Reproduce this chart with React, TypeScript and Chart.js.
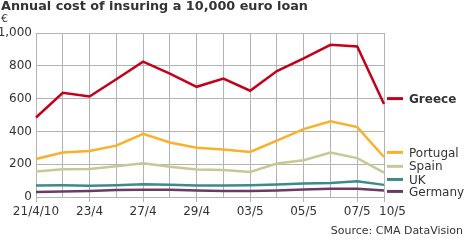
import React, { useEffect, useRef } from "react";
import { Chart, registerables } from "chart.js";

Chart.register(...registerables);

const dates = ["21/4/10", "22/4", "23/4", "26/4", "27/4", "28/4", "29/4", "30/4", "03/5", "04/5", "05/5", "06/5", "07/5", "10/5"];
const shownLabels = ["21/4/10", "23/4", "27/4", "29/4", "03/5", "05/5", "07/5", "10/5"];

const greece = [485, 635, 613, 718, 825, 752, 672, 722, 648, 768, 845, 928, 918, 567];
const portugal = [232, 271, 280, 313, 385, 332, 300, 290, 275, 344, 414, 462, 426, 244];
const spain = [155, 169, 171, 187, 206, 184, 168, 165, 153, 204, 224, 271, 237, 149];
const uk = [70, 71, 69, 72, 78, 74, 70, 70, 72, 76, 82, 86, 96, 74];
const germany = [31, 33, 37, 42, 44, 44, 40, 37, 37, 40, 46, 50, 50, 40];

const seriesNames = ["Greece", "Portugal", "Spain", "UK", "Germany"];
const seriesColors = ["#c4001a", "#f7b12a", "#c9c796", "#3d8a8c", "#6b3b67"];
const legendValues = [600, 272, 187, 107, 34];

const titleText = "Annual cost of insuring a 10,000 euro loan";
const unitText = "€";
const sourceText = "Source: CMA DataVision";

const FONT = "'DejaVu Sans', Verdana, sans-serif";

export default function App() {
  const ref = useRef<HTMLCanvasElement>(null);
  useEffect(() => {
    const canvas = ref.current!;
    const values = [greece, portugal, spain, uk, germany];
    const overlay = {
      id: "overlay",
      afterDraw(chart: any) {
        const ctx = chart.ctx as CanvasRenderingContext2D;
        const ys = chart.scales.y;
        const xs = chart.scales.x;
        ctx.save();
        ctx.fillStyle = "#333";
        ctx.textBaseline = "alphabetic";
        ctx.textAlign = "left";
        ctx.font = `bold 12.8px ${FONT}`;
        ctx.fillText(titleText, 1, 10);
        ctx.font = `11px ${FONT}`;
        ctx.fillText(unitText, 1, 22);
        ctx.textAlign = "right";
        ctx.fillText(sourceText, 463, 234);
        // x tick labels
        ctx.font = `12px ${FONT}`;
        ctx.textBaseline = "top";
        dates.forEach((d, i) => {
          if (!shownLabels.includes(d)) return;
          const x = xs.getPixelForValue(i);
          const last = i === dates.length - 1;
          ctx.textAlign = last ? "left" : "center";
          ctx.fillText(d, last ? x - 5 : x, 206);
        });
        // legend
        ctx.textAlign = "left";
        ctx.textBaseline = "middle";
        seriesNames.forEach((n, i) => {
          const y = ys.getPixelForValue(legendValues[i]);
          ctx.strokeStyle = seriesColors[i];
          ctx.lineWidth = 3;
          ctx.beginPath();
          ctx.moveTo(387, y);
          ctx.lineTo(403, y);
          ctx.stroke();
          ctx.fillStyle = "#333";
          ctx.font = i === 0 ? `bold 12px ${FONT}` : `12px ${FONT}`;
          ctx.fillText(n, 409, y + 1);
        });
        ctx.restore();
      },
    };
    const chart = new Chart(canvas, {
      type: "line",
      data: {
        labels: dates,
        datasets: seriesNames.map((n, i) => ({
          label: n,
          data: values[i],
          borderColor: seriesColors[i],
          backgroundColor: seriesColors[i],
          borderWidth: 2.5,
          pointRadius: 0,
          tension: 0,
          order: i === 0 ? -1 : i,
        })),
      },
      options: {
        responsive: false,
        animation: false,
        layout: { padding: { left: 0, right: 82, top: 33, bottom: 0 } },
        plugins: { legend: { display: false }, tooltip: { enabled: false }, title: { display: false } },
        scales: {
          x: {
            offset: false,
            grid: {
              color: "#b3b3b3",
              lineWidth: 1,
              drawTicks: true,
              tickLength: 5,
              tickColor: (c: any) => (shownLabels.includes(dates[c.index]) ? "#b3b3b3" : "rgba(0,0,0,0)"),
            },
            border: { color: "#b3b3b3" },
            ticks: {
              autoSkip: false,
              maxRotation: 0,
              padding: 2,
              color: "#333",
              font: { family: FONT, size: 12 },
              callback: () => "",
            },
            afterFit: (s: any) => { s.height = 43; },
          },
          y: {
            min: 0,
            max: 1000,
            grid: { color: "#b3b3b3", lineWidth: 1, drawTicks: false },
            border: { color: "#b3b3b3" },
            ticks: {
              stepSize: 200,
              padding: 4,
              color: "#333",
              font: { family: FONT, size: 12 },
              callback: (v: any) => Number(v).toLocaleString("en-US"),
            },
            afterFit: (s: any) => { s.width = 36; },
          },
        },
      },
      plugins: [overlay],
    });
    return () => chart.destroy();
  }, []);
  return (
    <div style={{ position: "fixed", left: 0, top: 0, width: 466, height: 240, background: "#fff" }}>
      <canvas ref={ref} width={466} height={240} style={{ width: 466, height: 240 }} />
    </div>
  );
}
